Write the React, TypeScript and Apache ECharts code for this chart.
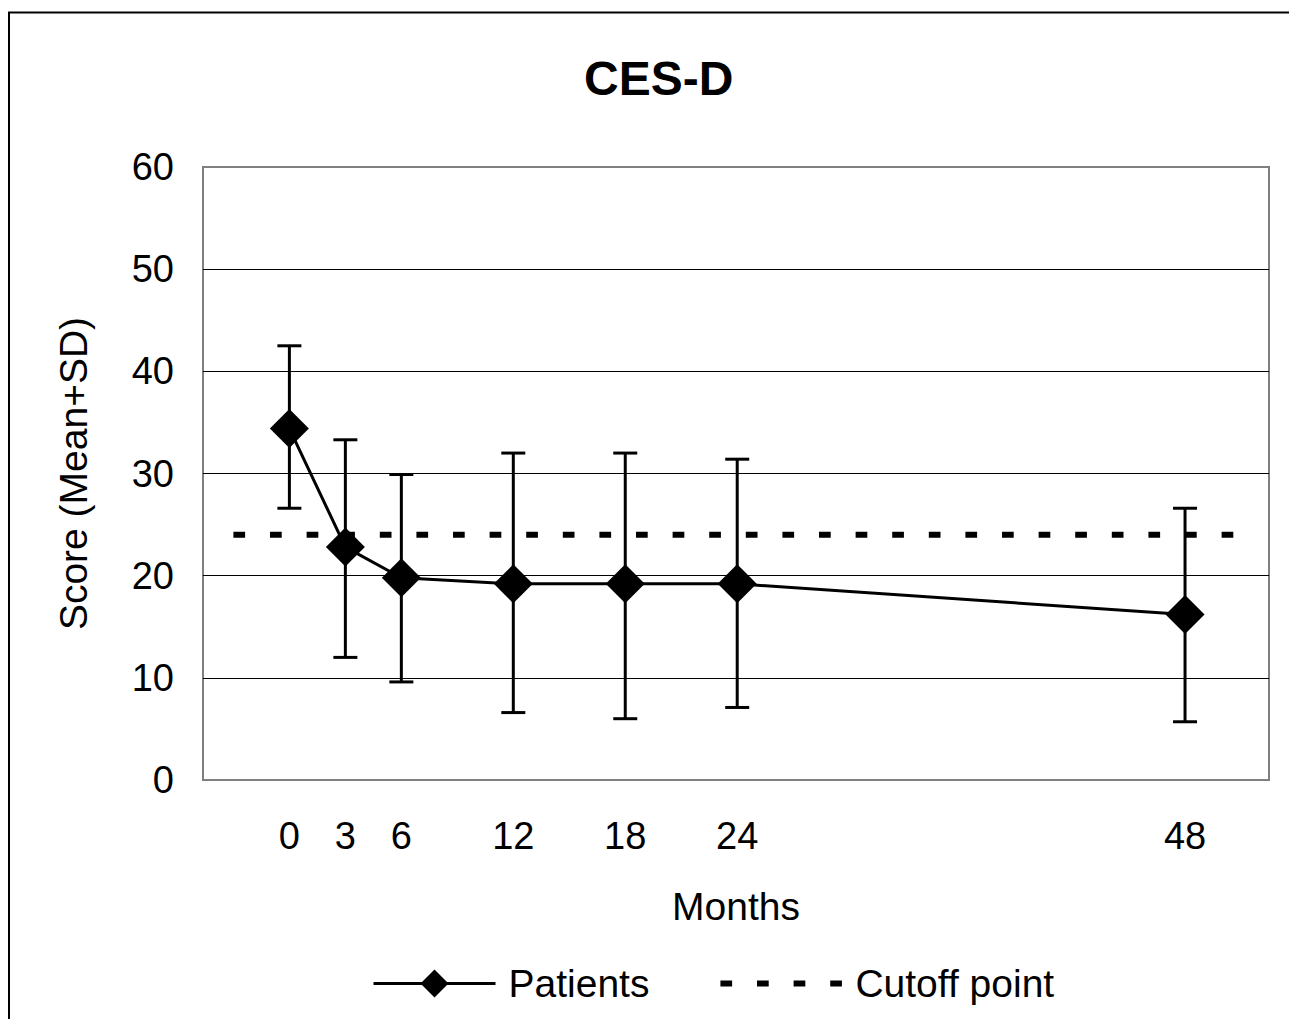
import React, { useEffect, useRef } from "react";
import * as echarts from "echarts";

const months = [0, 3, 6, 12, 18, 24, 48];
const means = [34.4, 22.8, 19.8, 19.2, 19.2, 19.2, 16.2];
const upper = [42.5, 33.3, 29.9, 32.0, 32.0, 31.4, 26.6];
const lower = [26.6, 12.0, 9.6, 6.6, 6.0, 7.1, 5.7];
const cutoffValue = 24;
const cutoffSpan = [-3, 51];
const yTicks = { min: 0, max: 60, interval: 10 };
const xRange = { min: -4.63, max: 52.5 };

const FONT = "'Liberation Sans', Arial, Helvetica, sans-serif";

export default function App() {
  const ref = useRef<HTMLDivElement>(null);
  useEffect(() => {
    if (!ref.current) return;
    const chart = echarts.init(ref.current, null, { renderer: "svg" });
    const patients = months.map((m, i) => [m, means[i]]);
    const bars = months.map((m, i) => [m, lower[i], upper[i]]);
    const cutoff = cutoffSpan.map((x) => [x, cutoffValue]);
    chart.setOption({
      animation: false,
      backgroundColor: "#fff",
      textStyle: { fontFamily: FONT, color: "#000" },
      title: {
        text: "CES-D",
        left: 571,
        top: 41,
        textStyle: { fontFamily: FONT, fontSize: 48, fontWeight: "bold", color: "#000" },
      },
      graphic: [
        {
          type: "rect",
          shape: { x: 1, y: 4.5, width: 1400, height: 1100 },
          style: { fill: "none", stroke: "#000", lineWidth: 2 },
          silent: true,
        },
      ],
      grid: {
        left: 195,
        right: 28,
        top: 159,
        bottom: 239,
        show: true,
        borderColor: "#808080",
        borderWidth: 2,
        backgroundColor: "#fff",
      },
      legend: {
        data: [
          { name: "Patients", lineStyle: { width: 3, color: "#000" } },
          {
            name: "Cutoff point",
            lineStyle: { width: 6, color: "#000", type: [11.7, 24.9] },
            itemStyle: { color: "rgba(0,0,0,0)", borderColor: "rgba(0,0,0,0)", borderWidth: 0 },
          },
        ],
        left: 364,
        top: 956,
        padding: 0,
        itemWidth: 122,
        itemHeight: 35,
        itemGap: 68,
        textStyle: { fontFamily: FONT, fontSize: 39, color: "#000", padding: [0, 0, 0, 8] },
      },
      xAxis: {
        type: "value",
        min: xRange.min,
        max: xRange.max,
        name: "Months",
        nameLocation: "middle",
        nameGap: 107,
        nameTextStyle: { fontFamily: FONT, fontSize: 39, color: "#000" },
        axisLine: { show: false },
        axisTick: { show: false },
        splitLine: { show: false },
        axisLabel: {
          customValues: months,
          fontFamily: FONT,
          fontSize: 38,
          color: "#000",
          margin: 37,
        },
      },
      yAxis: {
        type: "value",
        min: yTicks.min,
        max: yTicks.max,
        interval: yTicks.interval,
        name: "Score (Mean+SD)",
        nameLocation: "middle",
        nameGap: 110,
        nameTextStyle: { fontFamily: FONT, fontSize: 39, color: "#000" },
        axisLine: { show: false },
        axisTick: { show: false },
        splitLine: {
          show: true,
          showMinLine: false,
          showMaxLine: false,
          lineStyle: { color: "#000", width: 1 },
        },
        axisLabel: { fontFamily: FONT, fontSize: 38, color: "#000", margin: 29 },
      },
      series: [
        {
          name: "Cutoff point",
          type: "line",
          data: cutoff,
          symbol: "none",
          z: 1,
          lineStyle: { color: "#000", width: 6, type: [11.7, 24.9] },
          itemStyle: { color: "#000" },
        },
        {
          name: "errors",
          type: "custom",
          data: bars,
          z: 2,
          encode: { x: 0, y: [1, 2] },
          renderItem: (params: any, api: any) => {
            const x = api.value(0);
            const lo = api.value(1);
            const hi = api.value(2);
            const pTop = api.coord([x, hi]);
            const pBot = api.coord([x, lo]);
            const w = 12;
            const st = { stroke: "#000", lineWidth: 3 };
            return {
              type: "group",
              children: [
                { type: "line", shape: { x1: pTop[0], y1: pTop[1], x2: pBot[0], y2: pBot[1] }, style: st },
                { type: "line", shape: { x1: pTop[0] - w, y1: pTop[1], x2: pTop[0] + w, y2: pTop[1] }, style: st },
                { type: "line", shape: { x1: pBot[0] - w, y1: pBot[1], x2: pBot[0] + w, y2: pBot[1] }, style: st },
              ],
            };
          },
        },
        {
          name: "Patients",
          type: "line",
          data: patients,
          z: 3,
          symbol: "diamond",
          symbolSize: 39,
          lineStyle: { color: "#000", width: 3 },
          itemStyle: { color: "#000" },
        },
      ],
    });
    return () => chart.dispose();
  }, []);
  return <div ref={ref} style={{ width: 1289, height: 1011 }} />;
}
